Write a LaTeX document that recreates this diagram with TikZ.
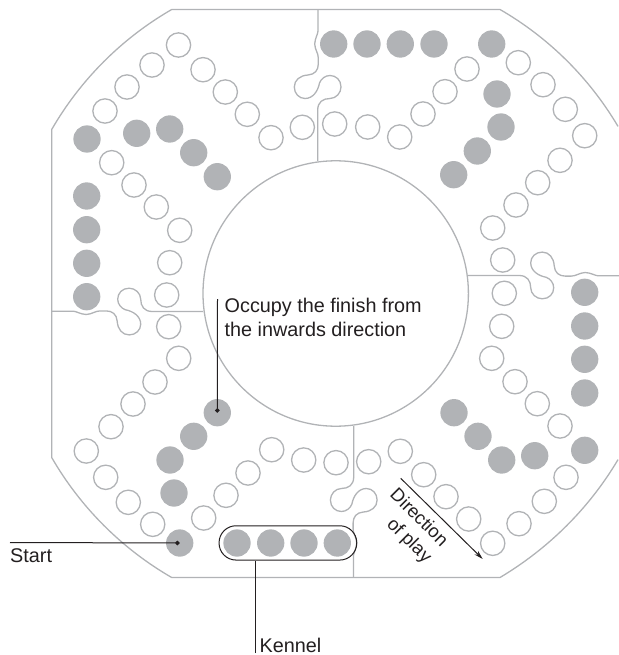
\documentclass[tikz,border=0pt]{standalone}
\usepackage{fontspec}
\setmainfont{Liberation Sans}
\usetikzlibrary{arrows.meta}

\definecolor{boardgrey}{HTML}{B1B3B6}
\definecolor{inkblack}{HTML}{231F20}

\tikzset{
  boardline/.style={draw=boardgrey, line width=1.3pt},
  leader/.style={draw=inkblack, line width=1pt},
  caption/.style={text=inkblack, font=\fontsize{19.8}{24}\selectfont, inner sep=0pt}
}

% one of the four seams, the others are the same turned about the centre
\newcommand{\seampath}{
  (318,9.5) -- (318,31)
  .. controls (318,34) and (315,38) .. (314.7,44)
  .. controls (315,50) and (318.3,53) .. (318.3,58)
  -- (318.3,64)
  .. controls (318.3,70) and (315,74.5) .. (308,75)
  .. controls (300,75.5) and (294.3,80) .. (294.3,87)
  .. controls (294.3,93.5) and (299,98.5) .. (305,98.5)
  .. controls (313,98.5) and (318,91) .. (319.5,83)
  .. controls (321,79) and (325,75.5) .. (330,75.5)
  .. controls (336,75.5) and (341,80) .. (341,87)
  .. controls (341,93) and (336,98.5) .. (330,98.5)
  .. controls (323,98.5) and (317.7,102) .. (317.7,110)
  -- (317.7,161)
}

\begin{document}
\begin{tikzpicture}[x=1pt,y=-1pt]

      \useasboundingbox (0,0) rectangle (618,655);

      % board
      \draw[boardline] (618,459.6)
        .. controls (589.3,508.1) and (548.8,548.3) .. (500,577.5)
        -- (171.7,577.5)
        .. controls (121.9,548.75) and (80.45,507.3) .. (51.7,457.5)
        -- (51.7,129.5)
        .. controls (80.45,79.7) and (121.9,38.25) .. (171.7,9.5)
        -- (500,9.5)
        .. controls (548.8,37.7) and (589.3,77.9) .. (618,126.4);
      \draw[boardline] (335.7,293.5) circle[radius=132.7];

      \draw[boardline] \seampath;
      \draw[boardline, rotate around={90:(335.7,293.5)}] \seampath;
      \draw[boardline, rotate around={180:(335.7,293.5)}] \seampath;
      \draw[boardline, rotate around={270:(335.7,293.5)}] \seampath;

      \begin{scope}[every node/.style={circle, boardline, minimum size=24.3pt, inner sep=0pt}]
        \node (1)  at (178.5,45)  {};
        \node (2)  at (152,65)    {};
        \node (3)  at (127,87)    {};
        \node (4)  at (105,111)   {};
        \node (5)  at (111.7,162.7) {};
        \node (6)  at (134,185)   {};
        \node (7)  at (156.3,207) {};
        \node (8)  at (179.7,230.3) {};
        \node (9)  at (169.7,262.7) {};
        \node (10) at (166.7,295) {};
        \node (11) at (168.7,326.7) {};
        \node (12) at (178.7,358.3) {};
        \node (13) at (155,382)   {};
        \node (14) at (133,404)   {};
        \node (15) at (111,426.7) {};
        \node (16) at (86.3,451)  {};
        \node (17) at (105.7,477.3) {};
        \node (18) at (128.3,502.3) {};
        \node (19) at (152.7,524.3) {};
        \node (20) at (203.7,518) {};
        \node (21) at (226,495.3) {};
        \node (22) at (248,473)   {};
        \node (23) at (271.7,449.7) {};
        \node (24) at (303.7,460) {};
        \node (25) at (336,462.7) {};
        \node (26) at (368.7,461.7) {};
        \node (27) at (400.3,451.3) {};
        \node (28) at (423.7,474.7) {};
        \node (29) at (446,496.7) {};
        \node (30) at (468.7,519) {};
        \node (31) at (492.7,543.3) {};
        \node (32) at (519,523.7) {};
        \node (33) at (544.3,501.3) {};
        \node (34) at (566,477.3) {};
        \node (35) at (560,426)   {};
        \node (36) at (537.3,403.7) {};
        \node (37) at (515,381.7) {};
        \node (38) at (491.7,358.3) {};
        \node (39) at (501.7,326.3) {};
        \node (40) at (504.3,293.3) {};
        \node (41) at (502.7,260) {};
        \node (42) at (492.7,228) {};
        \node (43) at (516,205)   {};
        \node (44) at (537.7,182.7) {};
        \node (45) at (560,160.3) {};
        \node (46) at (584.7,135.7) {};
        \node (47) at (565.3,109.3) {};
        \node (48) at (543,84.7)  {};
        \node (49) at (518.3,62.7) {};
        \node (50) at (467,69)    {};
        \node (51) at (445,91.7)  {};
        \node (52) at (423,114)   {};
        \node (53) at (399.7,137) {};
        \node (54) at (367.7,127) {};
        \node (55) at (334.7,124) {};
        \node (56) at (302.3,127.3) {};
        \node (57) at (271,137.7) {};
        \node (58) at (247.3,114.3) {};
        \node (59) at (225.3,92)  {};
        \node (60) at (203,69.7)  {};
      \end{scope}

      \begin{scope}[every node/.style={circle, fill=boardgrey, minimum size=27.3pt, inner sep=0pt}]
        % top left
        \node (f1)  at (87,139)    {};
        \node (f2)  at (136.7,133.3) {};
        \node (f3)  at (169.7,129) {};
        \node (f4)  at (193.7,152.7) {};
        \node (f5)  at (217.3,176.7) {};
        \node (f6)  at (86.7,196)  {};
        \node (f7)  at (86.7,229.7) {};
        \node (f8)  at (86.7,263.3) {};
        \node (f9)  at (86.7,296.7) {};
        % top right
        \node (f10) at (333.7,44)  {};
        \node (f11) at (367,44)    {};
        \node (f12) at (400.3,44)  {};
        \node (f13) at (434,44)    {};
        \node (f14) at (491.7,44)  {};
        \node (f15) at (497,94)    {};
        \node (f16) at (501,127)   {};
        \node (f17) at (477.3,151) {};
        \node (f18) at (453.7,174.7) {};
        % bottom right
        \node (f19) at (584.7,292.3) {};
        \node (f20) at (584.7,326) {};
        \node (f21) at (584.7,359.3) {};
        \node (f22) at (584.7,393) {};
        \node (f23) at (584.7,450.3) {};
        \node (f24) at (454,412.7) {};
        \node (f25) at (478,436.3) {};
        \node (f26) at (501.7,460) {};
        \node (f27) at (534.7,455.7) {};
        % bottom left
        \node (f28) at (217.3,412.7) {};
        \node (f29) at (193.7,436.3) {};
        \node (f30) at (170,460)   {};
        \node (f31) at (174,493)   {};
        \node (f32) at (179.7,543) {};
        % kennel
        \node (f33) at (237,543)   {};
        \node (f34) at (270.7,543) {};
        \node (f35) at (304,543)   {};
        \node (f36) at (337.3,543) {};
      \end{scope}

      \node[leader, rounded corners=17pt, minimum width=137.7pt, minimum height=34.3pt, inner sep=0pt] (kennel) at (287.9,542.9) {};

      % labels
      \begin{scope}[every node/.style={caption}]
        \node[anchor=west] (finish) at (224.5,320) {\begin{tabular}{@{}l@{}}Occupy the finish from\\the inwards direction\end{tabular}};
        \node[anchor=west] (start) at (10,555.5) {Start};
        \node[anchor=west] (kennellabel) at (259.5,645) {Kennel};
        \node[rotate=-45, align=right, font=\fontsize{18.5}{23}\selectfont] (play) at (410.3,526.3) {Direction\\of play};
      \end{scope}

      \coordinate (startend)  at (10,542.5);
      \coordinate (finishend) at (217.5,299);
      \coordinate (kennelend) at (255.5,653);
      \coordinate (playa) at (400.7,478.3);
      \coordinate (playb) at (482.7,559);

      \draw[leader, -{Circle[length=4.5pt]}] (startend) -- (f32.center);
      \draw[leader, -{Circle[length=4.5pt]}] (finishend) -- (f28.center);
      \draw[leader] (kennelend) -- (kennelend |- kennel.south);
      \draw[leader, -{Stealth[length=9pt, width=5pt]}] (playa) -- (playb);

    \end{tikzpicture}
\end{document}
